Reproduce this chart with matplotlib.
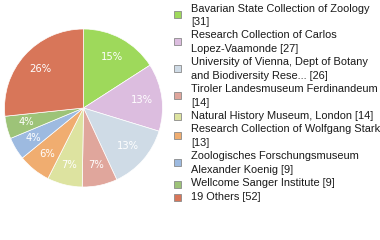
import math
import matplotlib
matplotlib.use("Agg")
import matplotlib.pyplot as plt
from matplotlib.patches import Rectangle

labels = [
    "Bavarian State Collection of Zoology\n[31]",
    "Research Collection of Carlos\nLopez-Vaamonde [27]",
    "University of Vienna, Dept of Botany\nand Biodiversity Rese... [26]",
    "Tiroler Landesmuseum Ferdinandeum\n[14]",
    "Natural History Museum, London [14]",
    "Research Collection of Wolfgang Stark\n[13]",
    "Zoologisches Forschungsmuseum\nAlexander Koenig [9]",
    "Wellcome Sanger Institute [9]",
    "19 Others [52]",
]
values = [31, 27, 26, 14, 14, 13, 9, 9, 52]
colors = ["#9ed95b", "#dcbddf", "#cfdbe6", "#e0a69c", "#dde3a0",
          "#f0ad70", "#9dbae0", "#9dc378", "#d87659"]

W, H = 380, 240
fig = plt.figure(figsize=(W / 100, H / 100), dpi=100)
fig.patch.set_facecolor("white")

FONT = ["Liberation Sans", "DejaVu Sans"]

cx, cy, R = 83.5, 108, 79
ax = fig.add_axes([(cx - R) / W, (H - cy - R) / H, 2 * R / W, 2 * R / H])

def pct(p):
    return "%d%%" % math.floor(p + 1e-9)

wedges, texts, autotexts = ax.pie(
    values, colors=colors, startangle=90, counterclock=False,
    autopct=pct, pctdistance=0.74,
    wedgeprops=dict(edgecolor="white", linewidth=0.5),
    textprops=dict(color="white", fontsize=7.2, family="DejaVu Sans"),
)
ax.set_xlim(-1, 1)
ax.set_ylim(-1, 1)
ax.set_aspect("auto")
ax.axis("off")

# fit legend font size so the first line is ~180 px wide
renderer = fig.canvas.get_renderer()
probe = fig.text(0, 0, labels[0].split("\n")[0], fontsize=10, family=FONT)
wpx = probe.get_window_extent(renderer).width
probe.remove()
fs = 10 * 179 / wpx

line0 = 8.5
step = 13.43
line = 0
sq = 7
for lab, col in zip(labels, colors):
    parts = lab.split("\n")
    ys = []
    for part in parts:
        y = line0 + line * step
        ys.append(y)
        fig.text(191 / W, 1 - y / H, part, fontsize=fs, family=FONT,
                 color="#1a1a1a", va="center", ha="left")
        line += 1
    ymid = sum(ys) / len(ys)
    if len(ys) == 1:
        ymid += 1
    else:
        ymid -= 0.5
    fig.patches.append(Rectangle((174 / W, 1 - (ymid + sq / 2) / H), sq / W, sq / H,
                                 transform=fig.transFigure, facecolor=col,
                                 edgecolor="#8a8a8a", linewidth=0.6))

fig.savefig("out.png", dpi=100)
